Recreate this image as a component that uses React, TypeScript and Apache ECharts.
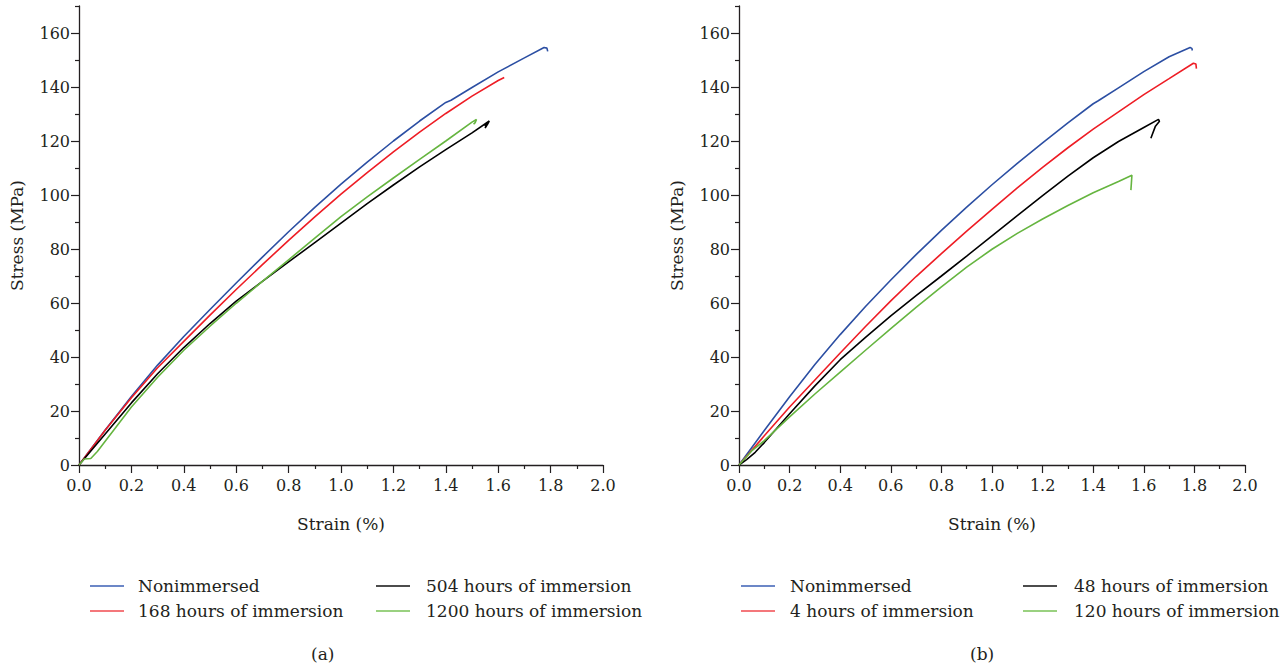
import React, { useEffect, useRef } from "react";
import * as echarts from "echarts";

const FONT = '"DejaVu Serif", "Liberation Serif", serif';
const INK = "#231f20";

// axis ranges / ticks
const xMax = 2.0;
const yMax = 170;
const yMajorTicks = [0, 20, 40, 60, 80, 100, 120, 140, 160];
const yMinorTicks = [10, 30, 50, 70, 90, 110, 130, 150, 170];

// Panel (a) series: [strain %, stress MPa]
const aNonimmersed: [number, number][] = [
  [0, 0], [0.1, 13], [0.2, 25.4], [0.3, 37], [0.4, 47.6], [0.5, 57.6], [0.6, 67.4],
  [0.7, 77], [0.8, 86.4], [0.9, 95.4], [1.0, 104], [1.1, 112.2], [1.2, 120],
  [1.3, 127.4], [1.4, 134.3], [1.42, 135.1], [1.5, 139.8], [1.6, 145.6], [1.7, 150.8],
  [1.775, 154.6], [1.786, 154.4], [1.789, 153.2],
];
const a168h: [number, number][] = [
  [0, 0], [0.1, 12.9], [0.2, 24.9], [0.3, 36], [0.4, 45.8], [0.5, 55.5], [0.6, 65],
  [0.7, 74.2], [0.8, 83.2], [0.9, 91.9], [1.0, 100.3], [1.1, 108.3], [1.2, 116],
  [1.3, 123.3], [1.4, 130.2], [1.5, 136.6], [1.6, 142.4], [1.623, 143.5],
];
const a504h: [number, number][] = [
  [0, 0], [0.1, 11.5], [0.2, 23], [0.3, 33.8], [0.4, 43.5], [0.5, 52.4], [0.6, 60.7],
  [0.7, 68], [0.8, 75.2], [0.9, 82.4], [1.0, 89.6], [1.1, 96.8], [1.2, 103.7],
  [1.3, 110.4], [1.4, 116.8], [1.5, 123], [1.566, 127.4], [1.55, 124.8], [1.562, 126.6],
  [1.548, 125.6],
];
const a1200h: [number, number][] = [
  [0, 0], [0.02, 2.2], [0.045, 2.4], [0.07, 5], [0.1, 8.8], [0.2, 21.5], [0.3, 32.5],
  [0.4, 42.5], [0.5, 51.4], [0.6, 59.9], [0.7, 68], [0.8, 76], [0.9, 84], [1.0, 92],
  [1.1, 99.3], [1.2, 106.3], [1.3, 113.2], [1.4, 120], [1.5, 127], [1.517, 128],
  [1.512, 126.8], [1.506, 126.2],
];

// Panel (b) series
const bNonimmersed: [number, number][] = [
  [0, 0], [0.1, 12.8], [0.2, 25.3], [0.3, 37.2], [0.4, 48.3], [0.5, 58.7], [0.6, 68.5],
  [0.7, 77.9], [0.8, 86.9], [0.9, 95.5], [1.0, 103.8], [1.1, 111.7], [1.2, 119.3],
  [1.3, 126.7], [1.4, 133.8], [1.42, 134.9], [1.5, 139.7], [1.6, 145.7], [1.7, 151.2],
  [1.783, 154.6], [1.79, 154.3], [1.792, 153.5],
];
const b4h: [number, number][] = [
  [0, 0], [0.1, 10.8], [0.2, 21.5], [0.3, 31.5], [0.4, 41.5], [0.5, 51.3], [0.6, 60.8],
  [0.7, 69.8], [0.8, 78.3], [0.9, 86.6], [1.0, 94.7], [1.1, 102.6], [1.2, 110.2],
  [1.3, 117.5], [1.4, 124.4], [1.5, 130.8], [1.6, 137.2], [1.7, 143.1], [1.796, 148.8],
  [1.806, 148.5], [1.808, 146.8],
];
const b48h: [number, number][] = [
  [0, 0], [0.03, 2], [0.064, 4.7], [0.1, 8.3], [0.2, 19], [0.3, 29.3], [0.4, 39],
  [0.5, 47.3], [0.6, 55.2], [0.7, 62.7], [0.8, 70], [0.9, 77.4], [1.0, 84.9], [1.1, 92.4],
  [1.2, 99.8], [1.3, 107], [1.4, 113.8], [1.5, 119.8], [1.6, 125], [1.658, 128],
  [1.662, 127.3], [1.646, 125.5], [1.628, 121],
];
const b120h: [number, number][] = [
  [0, 0], [0.05, 5.2], [0.1, 9], [0.2, 17.8], [0.3, 26.3], [0.4, 34.4], [0.5, 42.5],
  [0.6, 50.5], [0.7, 58.4], [0.8, 66], [0.9, 73.3], [1.0, 79.9], [1.1, 85.8], [1.2, 91.1],
  [1.3, 96.1], [1.4, 100.8], [1.5, 105], [1.553, 107.3], [1.551, 104.5], [1.549, 101.8],
];

const namesA = ["Nonimmersed", "168 hours of immersion", "504 hours of immersion", "1200 hours of immersion"];
const namesB = ["Nonimmersed", "4 hours of immersion", "48 hours of immersion", "120 hours of immersion"];
const colors = ["#2c4fa3", "#ee1d25", "#000000", "#66b540"];
const legendColors = ["#3b5fb5", "#f04a4f", "#111111", "#79c256"];

export default function App() {
  const ref = useRef<HTMLDivElement>(null);
  useEffect(() => {
    if (!ref.current) return;
    const chart = echarts.init(ref.current, undefined, { renderer: "svg" });

    const grids = [
      { left: 79, top: 6, width: 524, height: 459 },
      { left: 739, top: 6, width: 506, height: 459 },
    ];

    const xAxes = [0, 1].map((g) => ({
      type: "value",
      gridIndex: g,
      min: 0,
      max: xMax,
      interval: 0.2,
      name: "Strain (%)",
      nameLocation: "middle",
      nameGap: 50,
      nameTextStyle: { fontFamily: FONT, fontSize: 17, color: INK },
      axisLine: { show: true, onZero: false, lineStyle: { color: INK, width: 1.3 } },
      axisTick: { show: true, inside: false, length: 8, lineStyle: { color: INK, width: 1.2 } },
      minorTick: { show: true, splitNumber: 2, length: 4, lineStyle: { color: INK, width: 1.2 } },
      axisLabel: {
        fontFamily: FONT,
        fontSize: 16,
        color: INK,
        margin: 12,
        formatter: (v: number) => v.toFixed(1),
      },
      splitLine: { show: false },
      minorSplitLine: { show: false },
    }));

    const yAxes: any[] = [];
    [0, 1].forEach((g) => {
      yAxes.push({
        type: "value",
        gridIndex: g,
        min: 0,
        max: yMax,
        interval: 20,
        name: "Stress (MPa)",
        nameLocation: "middle",
        nameGap: 54,
        nameRotate: 90,
        nameTextStyle: { fontFamily: FONT, fontSize: 17, color: INK },
        axisLine: { show: true, onZero: false, lineStyle: { color: INK, width: 1.3 } },
        axisTick: { show: true, inside: false, length: 8, customValues: yMajorTicks, lineStyle: { color: INK, width: 1.2 } },
        axisLabel: {
          fontFamily: FONT,
          fontSize: 16,
          color: INK,
          margin: 9,
          customValues: yMajorTicks,
          formatter: (v: number) => (v > 160 ? "" : String(v)),
        },
        splitLine: { show: false },
      });
    });
    [0, 1].forEach((g) => {
      yAxes.push({
        type: "value",
        gridIndex: g,
        position: "left",
        min: 0,
        max: yMax,
        interval: 10,
        axisLine: { show: false },
        axisTick: { show: true, inside: false, length: 4, customValues: yMinorTicks, lineStyle: { color: INK, width: 1.2 } },
        axisLabel: { show: false },
        splitLine: { show: false },
      });
    });

    const mk = (name: string, data: [number, number][], idx: number, color: string) => ({
      type: "line",
      name,
      data,
      xAxisIndex: idx,
      yAxisIndex: idx,
      showSymbol: false,
      symbol: "none",
      smooth: false,
      color,
      lineStyle: { color, width: 1.6 },
      emphasis: { disabled: true },
    });

    const series = [
      mk(namesA[0], aNonimmersed, 0, colors[0]),
      mk(namesA[1], a168h, 0, colors[1]),
      mk(namesA[2], a504h, 0, colors[2]),
      mk(namesA[3], a1200h, 0, colors[3]),
      mk(namesB[0], bNonimmersed, 1, colors[0]),
      mk(namesB[1], b4h, 1, colors[1]),
      mk(namesB[2], b48h, 1, colors[2]),
      mk(namesB[3], b120h, 1, colors[3]),
    ];

    const legendPos = [
      { name: namesA[0], left: 90, top: 576, pad: 9, c: 0 },
      { name: namesA[1], left: 90, top: 601, pad: 9, c: 1 },
      { name: namesA[2], left: 376, top: 576, pad: 11, c: 2 },
      { name: namesA[3], left: 376, top: 601, pad: 11, c: 3 },
      { name: namesB[0], left: 741, top: 576, pad: 10, c: 0 },
      { name: namesB[1], left: 741, top: 601, pad: 10, c: 1 },
      { name: namesB[2], left: 1023, top: 576, pad: 12, c: 2 },
      { name: namesB[3], left: 1023, top: 601, pad: 12, c: 3 },
    ];
    const legends = legendPos.map((l) => ({
      left: l.left,
      top: l.top,
      padding: 0,
      selectedMode: false,
      data: [{ name: l.name, itemStyle: { color: legendColors[l.c] } }],
      icon: "rect",
      itemWidth: 34,
      itemHeight: 1.5,
      textStyle: { fontFamily: FONT, fontSize: 17, color: INK, lineHeight: 20, padding: [0, 0, 0, l.pad] },
    }));

    chart.setOption({
      animation: false,
      backgroundColor: "#ffffff",
      grid: grids,
      xAxis: xAxes,
      yAxis: yAxes,
      legend: legends,
      series,
      graphic: [
        { type: "text", left: 311, top: 645, style: { text: "(a)", font: `17px ${FONT}`, fill: INK } },
        { type: "text", left: 970, top: 645, style: { text: "(b)", font: `17px ${FONT}`, fill: INK } },
      ],
    });
    return () => chart.dispose();
  }, []);
  return (
    <div
      ref={ref}
      style={{ position: "absolute", left: 0, top: 0, width: 1288, height: 667, background: "#fff" }}
    />
  );
}
